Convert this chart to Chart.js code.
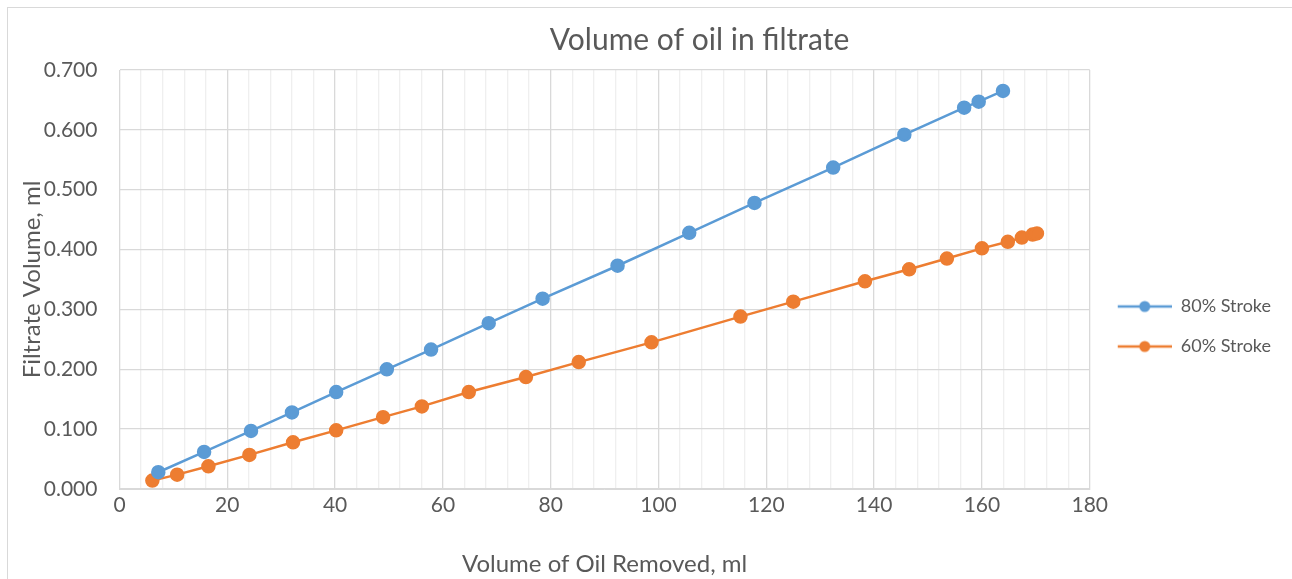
<!DOCTYPE html>
<html><head><meta charset="utf-8">
<script src="https://cdn.jsdelivr.net/npm/chart.js@4"></script>
<style>
html,body{margin:0;padding:0;background:#fff;}
#wrap{position:absolute;left:0;top:0;width:1292px;height:579px;}
#frame{position:absolute;left:7px;top:7px;width:1290px;height:600px;border:1px solid #d9d9d9;box-sizing:border-box;pointer-events:none;}
</style></head>
<body>
<div id="wrap"><canvas id="c" width="1292" height="579"></canvas></div>
<div id="frame"></div>
<script>
const seriesNames = ["80% Stroke", "60% Stroke"];
const x80 = [7.2, 15.7, 24.4, 32.0, 40.2, 49.6, 57.8, 68.5, 78.5, 92.4, 105.7, 117.8, 132.4, 145.6, 156.7, 159.4, 163.9];
const y80 = [0.028, 0.062, 0.097, 0.128, 0.162, 0.200, 0.233, 0.277, 0.318, 0.373, 0.428, 0.478, 0.537, 0.592, 0.637, 0.647, 0.665];
const x60 = [6.1, 10.7, 16.5, 24.1, 32.2, 40.2, 48.9, 56.1, 64.8, 75.4, 85.2, 98.7, 115.2, 125.0, 138.3, 146.5, 153.5, 160.0, 164.8, 167.4, 169.4, 170.2];
const y60 = [0.014, 0.024, 0.038, 0.057, 0.078, 0.098, 0.120, 0.138, 0.162, 0.187, 0.212, 0.245, 0.288, 0.313, 0.347, 0.367, 0.385, 0.402, 0.413, 0.420, 0.425, 0.427];
const colors = ["#5b9bd5", "#ed7d31"];

function pts(xs, ys){ return xs.map((x,i)=>({x:x, y:ys[i]})); }
function legendIcon(col){
  const cv = document.createElement('canvas');
  cv.width = 60; cv.height = 14;
  const g = cv.getContext('2d');
  g.strokeStyle = col; g.lineWidth = 2.5;
  g.beginPath(); g.moveTo(6,7); g.lineTo(60,7); g.stroke();
  g.fillStyle = col; g.beginPath(); g.arc(33,7,5.5,0,Math.PI*2); g.fill();
  return cv;
}
const icons = colors.map(legendIcon);
const txt = "#595959";
Chart.defaults.font.family = "Lato, 'Open Sans', sans-serif";

const shiftTitle = {
  id: 'shiftTitle',
  afterLayout(chart) {
    const t = chart.titleBlock;
    if (t) { t.left += 53; t.right += 53; }
  }
};

new Chart(document.getElementById('c'), {
  type: 'line',
  plugins: [shiftTitle],
  data: {
    datasets: [
      {label: seriesNames[0], data: pts(x80,y80), borderColor: colors[0], backgroundColor: colors[0], pointBackgroundColor: colors[0], pointBorderColor: colors[0], borderWidth: 2.5, pointRadius: 6, pointHoverRadius: 6, tension: 0},
      {label: seriesNames[1], data: pts(x60,y60), borderColor: colors[1], backgroundColor: colors[1], pointBackgroundColor: colors[1], pointBorderColor: colors[1], borderWidth: 2.5, pointRadius: 6, pointHoverRadius: 6, tension: 0}
    ]
  },
  options: {
    responsive: false,
    animation: false,
    layout: {padding: {left: 12, right: 11, top: 18, bottom: 0}},
    plugins: {
      title: {display: true, text: "Volume of oil in filtrate", color: txt, font: {size: 30, weight: 'normal'}, padding: {top: 4, bottom: 12}},
      legend: {
        position: 'right', align: 'center',
        title: {display: true, text: ' ', font: {size: 10}, padding: {top: 0, bottom: 44}},
        labels: {
          color: txt, font: {size: 18}, usePointStyle: true, pointStyleWidth: 60, boxHeight: 14, padding: 22,
          generateLabels: (chart) => chart.data.datasets.map((d,i)=>({text: d.label, pointStyle: icons[i], fillStyle: colors[i], strokeStyle: colors[i], lineWidth: 0, datasetIndex: i, hidden: false, fontColor: txt}))
        }
      },
      tooltip: {enabled: false}
    },
    scales: {
      x: {
        type: 'linear', min: 0, max: 180,
        ticks: {stepSize: 4, maxTicksLimit: 1000, autoSkip: false, maxRotation: 0, color: txt, font: {size: 21}, padding: 4,
          callback: (v) => (v % 20 === 0 ? String(v) : '')},
        grid: {color: (ctx) => (ctx.tick && ctx.tick.value % 20 === 0 ? '#d9d9d9' : '#efefef'), lineWidth: 1.3, drawTicks: false},
        border: {color: '#d9d9d9'},
        title: {display: true, text: "Volume of Oil Removed, ml", color: txt, font: {size: 24}, padding: {top: 28, bottom: 0}}
      },
      y: {
        type: 'linear', min: 0, max: 0.7,
        ticks: {stepSize: 0.1, color: txt, font: {size: 21}, padding: 22, callback: (v) => Number(v).toFixed(3)},
        grid: {color: '#d9d9d9', lineWidth: 1.3, drawTicks: false},
        border: {color: '#d9d9d9'},
        title: {display: true, text: "Filtrate Volume, ml", color: txt, font: {size: 24}, padding: {top: 6, bottom: -25}}
      }
    }
  }
});
</script>
</body></html>
